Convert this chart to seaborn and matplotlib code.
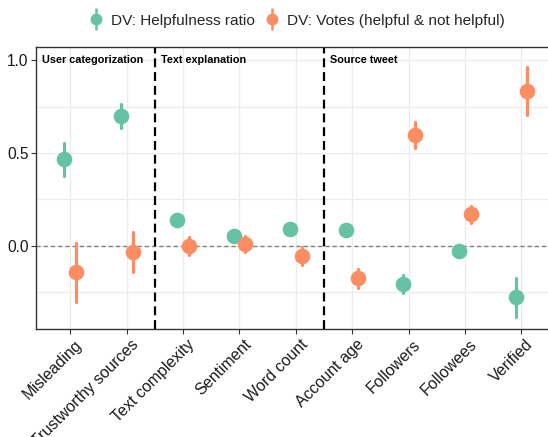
import numpy as np
import pandas as pd
import matplotlib
matplotlib.use("Agg")
import matplotlib.pyplot as plt
import matplotlib.transforms as mtransforms
from matplotlib.lines import Line2D
from matplotlib.legend_handler import HandlerTuple
import seaborn as sns

# ---- data ----
categories = ["Misleading", "Trustworthy sources", "Text complexity", "Sentiment",
              "Word count", "Account age", "Followers", "Followees", "Verified"]
series_names = ["DV: Helpfulness ratio", "DV: Votes (helpful & not helpful)"]

helpful_est = [0.466, 0.698, 0.137, 0.051, 0.090, 0.086, -0.205, -0.027, -0.278]
helpful_low = [0.376, 0.633, 0.122, 0.038, 0.078, 0.074, -0.257, -0.038, -0.386]
helpful_high = [0.552, 0.762, 0.152, 0.064, 0.102, 0.098, -0.156, -0.016, -0.172]

votes_est = [-0.140, -0.034, 0.000, 0.011, -0.054, -0.176, 0.597, 0.169, 0.836]
votes_low = [-0.302, -0.144, -0.050, -0.032, -0.102, -0.226, 0.528, 0.121, 0.705]
votes_high = [0.016, 0.075, 0.049, 0.052, -0.005, -0.127, 0.667, 0.214, 0.962]

section_labels = ["User categorization", "Text explanation", "Source tweet"]
section_starts = [-0.6, 1.5, 4.5]
dividers = [1.5, 4.5]
yticks = [0.0, 0.5, 1.0]
colors = ["#66C2A5", "#FC8D62"]

# long-form table: low / estimate / high rows -> median + full range interval
rows = []
for name, est, lo, hi in [(series_names[0], helpful_est, helpful_low, helpful_high),
                          (series_names[1], votes_est, votes_low, votes_high)]:
    for c, e, l, h in zip(categories, est, lo, hi):
        for v in (l, e, h):
            rows.append({"variable": c, "value": v, "dv": name})
df = pd.DataFrame(rows)

sns.set_theme(style="whitegrid")
plt.rcParams["font.family"] = ["Liberation Sans", "DejaVu Sans"]

fig = plt.figure(figsize=(5.48, 4.37), dpi=100)
ax = fig.add_axes([0.0664, 0.2465, 0.9336, 0.6465])

sns.pointplot(data=df, x="variable", y="value", hue="dv", order=categories,
              hue_order=series_names, palette=colors, estimator="median",
              errorbar=("pi", 100), dodge=0.21, linestyle="none",
              markers="o", markersize=9.2, err_kws={"linewidth": 2.3},
              ax=ax, legend=False)

ax.set_xlim(-0.6, 8.47)
ax.set_ylim(-0.451, 1.073)
ax.set_yticks(yticks)
ax.set_yticklabels([f"{t:.1f}" for t in yticks])
ax.set_yticks([-0.25, 0.25, 0.75], minor=True)

ax.grid(True, which="major", color="#EBEBEB", linewidth=0.9)
ax.grid(True, which="minor", axis="y", color="#EBEBEB", linewidth=0.9)
ax.set_axisbelow(True)

for s in ["left", "bottom", "top"]:
    ax.spines[s].set_color("#333333")
    ax.spines[s].set_linewidth(1.0)
ax.spines["right"].set_visible(False)

ax.tick_params(axis="both", which="major", length=3.5, width=0.8, color="#333333",
               labelcolor="#1a1a1a", pad=2, left=True, bottom=True)
ax.tick_params(axis="y", which="major", labelsize=11.2)
ax.tick_params(axis="x", which="major", labelsize=11.5)
ax.tick_params(axis="y", which="minor", length=0)
ax.set_xlabel("")
ax.set_ylabel("")
offset = mtransforms.ScaledTranslation(4 / 100, 0, fig.dpi_scale_trans)
for lab in ax.get_xticklabels():
    lab.set_rotation(45)
    lab.set_ha("right")
    lab.set_va("top")
    lab.set_rotation_mode("anchor")
    lab.set_transform(lab.get_transform() + offset)

ax.axhline(0, color="#808080", linestyle=(0, (3, 2.2)), linewidth=1.0, zorder=1)
for d in dividers:
    ax.axvline(d, color="black", linestyle=(0, (4, 2.2)), linewidth=1.6, zorder=1)

offsets = [0.094, 0.115, 0.098]
for lab, x0, off in zip(section_labels, section_starts, offsets):
    ax.text(x0 + off, 1.0, lab, fontsize=7.8, fontweight="bold", ha="left",
            va="center", color="black")

handles = []
for c in colors:
    h_line = Line2D([], [], color=c, marker="|", markersize=16.5, markeredgewidth=1.8,
                    linestyle="none")
    h_dot = Line2D([], [], color=c, marker="o", markersize=7.5, linestyle="none")
    handles.append((h_line, h_dot))
fig.legend(handles, series_names, handler_map={tuple: HandlerTuple(ndivide=1)},
           loc="center", bbox_to_anchor=(0.541, 0.953), ncol=2, frameon=False,
           fontsize=11.1, handlelength=1.0, handletextpad=0.5, columnspacing=0.6)

fig.savefig("out.png", dpi=100)
